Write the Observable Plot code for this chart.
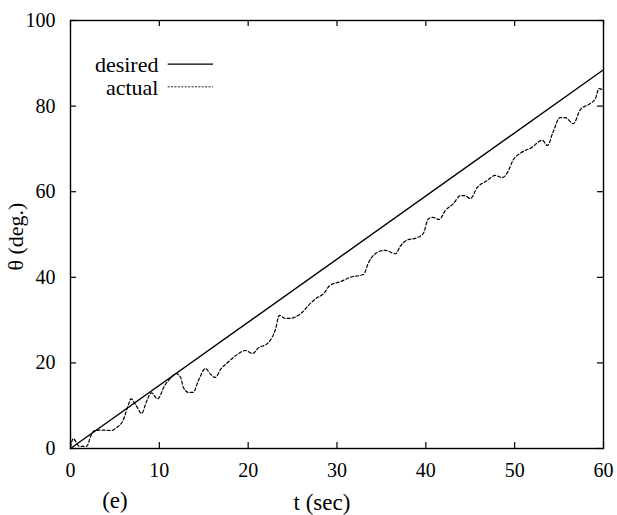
<!DOCTYPE html>
<html>
<head>
<meta charset="utf-8">
<script src="https://cdn.jsdelivr.net/npm/d3@7"></script>
<script src="https://cdn.jsdelivr.net/npm/@observablehq/plot@0.6"></script>
<style>
  html, body { margin: 0; padding: 0; background: #fff; }
  #chart svg { display: block; }
</style>
</head>
<body>
<div id="chart"></div>
<script>
// ---- data ----
const desiredT = [0, 60];
const desiredTheta = [0, 88.5];

const actualT = [0, 0.3, 1.0, 1.8, 2.4, 2.7, 3.5, 4.6, 5.2, 5.9, 6.6, 6.8, 7.4, 8.0, 8.6, 9.1, 9.8,
  10.6, 11.3, 11.9, 12.4, 12.7, 13.3, 13.8, 14.4, 15.2, 15.7, 16.3, 16.9, 17.7, 18.6, 19.7,
  20.5, 21.1, 22.3, 23.1, 23.5, 24.2, 24.7, 25.9, 27.0, 27.6, 28.5, 29.2, 30.4, 31.5, 33.0,
  33.5, 34.3, 35.4, 36.6, 37.1, 37.9, 38.8, 39.7, 40.3, 40.8, 41.5, 42.2, 43.1, 43.9, 44.4,
  45.0, 45.8, 46.9, 47.8, 48.6, 49.2, 49.8, 50.8, 51.9, 53.1, 53.7, 54.3, 55.1, 55.7, 56.6,
  57.4, 58.5, 59.1, 59.5, 59.8];
const actualTheta = [0.3, 2.3, 0.5, 0.5, 3.5, 4.2, 4.3, 4.2, 4.9, 6.5, 10.7, 11.6, 10.0, 8.2, 11.2, 13.0, 11.6,
  14.7, 16.5, 17.5, 16.6, 14.3, 13.1, 13.1, 15.9, 18.7, 17.5, 16.6, 18.5, 20.1, 21.7, 22.9,
  22.2, 23.4, 24.8, 28.0, 31.1, 30.4, 30.4, 31.5, 33.9, 35.0, 36.2, 38.1, 39.0, 40.0, 40.7,
  43.2, 45.5, 46.3, 45.5, 47.2, 48.7, 49.1, 50.2, 53.7, 54.0, 53.5, 55.6, 57.2, 59.1, 59.1,
  58.4, 61.0, 62.6, 63.8, 63.3, 64.5, 67.3, 69.2, 70.3, 72.0, 70.8, 73.8, 77.3, 77.3, 75.9,
  79.2, 80.6, 81.8, 84.1, 83.9];

const xTicks = [0, 10, 20, 30, 40, 50, 60];
const yTicks = [0, 20, 40, 60, 80, 100];
const seriesNames = ["desired", "actual"];
const xLabel = "t (sec)";
const yLabel = "θ (deg.)";
const panelLabel = "(e)";

// ---- build tables ----
const desired = desiredT.map((t, i) => ({t, v: desiredTheta[i]}));
const actual = actualT.map((t, i) => ({t, v: actualTheta[i]}));

const W = 617, H = 515;
const mL = 70, mR = 14, mT = 20, mB = 67;
const plotW = W - mL - mR, plotH = H - mT - mB;
const tickLen = 6;
const font = "Liberation Serif, DejaVu Serif, serif";

// legend placement (data units)
const legendDesired = [{name: seriesNames[0], y: 89.8}];
const legendActual = [{name: seriesNames[1], y: 84.5}];

const chart = Plot.plot({
  width: W,
  height: H,
  marginLeft: mL,
  marginRight: mR,
  marginTop: mT,
  marginBottom: mB,
  style: {fontSize: "20px", color: "#000", background: "#fff"},
  x: {domain: [0, 60]},
  y: {domain: [0, 100]},
  marks: [
    Plot.axisX(xTicks, {tickSize: 0, tickPadding: 14, fontSize: 20, fontFamily: font, label: null}),
    Plot.axisY(yTicks, {tickSize: 0, tickPadding: 15, fontSize: 20, fontFamily: font, label: null}),
    // inward ticks on all four sides
    Plot.tickX(xTicks, {x: d => d, insetTop: plotH - tickLen, stroke: "#000", strokeWidth: 1.2}),
    Plot.tickX(xTicks, {x: d => d, insetBottom: plotH - tickLen, stroke: "#000", strokeWidth: 1.2}),
    Plot.tickY(yTicks, {y: d => d, insetRight: plotW - tickLen, stroke: "#000", strokeWidth: 1.2}),
    Plot.tickY(yTicks, {y: d => d, insetLeft: plotW - tickLen, stroke: "#000", strokeWidth: 1.2}),
    Plot.frame({stroke: "#000", strokeWidth: 1.4}),
    // series
    Plot.line(desired, {x: "t", y: "v", stroke: "#000", strokeWidth: 1.4}),
    Plot.line(actual, {x: "t", y: "v", stroke: "#000", strokeWidth: 1.2, strokeDasharray: "3,2.2", curve: "monotone-x"}),
    // legend
    Plot.text(legendDesired.concat(legendActual), {x: 9.9, y: "y", text: "name", textAnchor: "end", lineAnchor: "middle", dy: 1, fontSize: 22, fontFamily: font, fill: "#000"}),
    Plot.ruleY(legendDesired, {y: "y", x1: 11.0, x2: 16.1, stroke: "#000", strokeWidth: 1.1}),
    Plot.ruleY(legendActual, {y: "y", x1: 11.0, x2: 16.1, stroke: "#000", strokeWidth: 0.9, strokeDasharray: "2,1.4"}),
    // axis labels
    Plot.text([xLabel], {x: 28.3, frameAnchor: "bottom", lineAnchor: "middle", dy: 54, fontSize: 23, fontFamily: font, fill: "#000"}),
    Plot.text([panelLabel], {x: 5.0, frameAnchor: "bottom", lineAnchor: "middle", dy: 52, fontSize: 23, fontFamily: font, fill: "#000"}),
    Plot.text([yLabel], {y: 49.5, frameAnchor: "left", rotate: -90, dx: -55, textAnchor: "middle", lineAnchor: "middle", fontSize: 22, fontFamily: font, fill: "#000"})
  ]
});

document.getElementById("chart").appendChild(chart);
</script>
</body>
</html>
